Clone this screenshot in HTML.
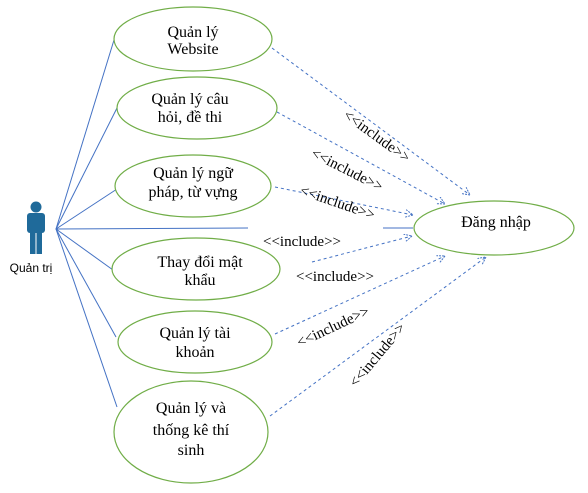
<!DOCTYPE html>
<html><head><meta charset="utf-8"><style>body{margin:0;background:#fff}</style></head><body>
<svg width="588" height="488" xmlns="http://www.w3.org/2000/svg" font-family="Liberation Serif, serif" font-size="16">
<defs><marker id="a" markerWidth="10" markerHeight="10" refX="8" refY="4" orient="auto" markerUnits="userSpaceOnUse"><path d="M0,0 L8,4 L0,8" fill="none" stroke="#4472c4" stroke-width="1" stroke-dasharray="2,1"/></marker></defs>
<g stroke="#4472c4" stroke-width="1" fill="none">
<line x1="56" y1="229" x2="114" y2="40"/>
<line x1="56" y1="229" x2="117" y2="108"/>
<line x1="56" y1="229" x2="117" y2="189"/>
<line x1="56" y1="229" x2="248" y2="228"/>
<line x1="383" y1="228" x2="413" y2="228"/>
<line x1="56" y1="229" x2="113" y2="270"/>
<line x1="56" y1="229" x2="116" y2="337"/>
<line x1="56" y1="229" x2="117" y2="407"/>
</g>
<g stroke="#4472c4" stroke-width="1" stroke-dasharray="3,3" fill="none" marker-end="url(#a)">
<line x1="272" y1="48" x2="470" y2="195"/>
<line x1="277" y1="112" x2="445" y2="204"/>
<line x1="275" y1="187" x2="413" y2="215"/>
<line x1="312" y1="262" x2="412" y2="236"/>
<line x1="275" y1="334" x2="445" y2="256"/>
<line x1="270" y1="416" x2="486" y2="257"/>
</g>
<g fill="#fff" stroke="#70ad47" stroke-width="1.2">
<ellipse cx="193" cy="39" rx="79" ry="32"/>
<ellipse cx="197" cy="108" rx="80" ry="31"/>
<ellipse cx="193" cy="186" rx="78" ry="31"/>
<ellipse cx="196" cy="269" rx="84" ry="31"/>
<ellipse cx="195" cy="342" rx="77" ry="31"/>
<ellipse cx="191" cy="432" rx="77" ry="51"/>
<ellipse cx="494" cy="228" rx="80" ry="27"/>
</g>
<g text-anchor="middle" fill="#000">
<text x="193" y="37">Quản lý</text><text x="193" y="54">Website</text>
<text x="190" y="104">Quản lý câu</text><text x="190" y="122">hỏi, đề thi</text>
<text x="193" y="178">Quản lý ngữ</text><text x="193" y="197">pháp, từ vựng</text>
<text x="200" y="267">Thay đổi mật</text><text x="200" y="285">khẩu</text>
<text x="195" y="338">Quản lý tài</text><text x="195" y="357">khoản</text>
<text x="191" y="413">Quản lý và</text><text x="191" y="435">thống kê thí</text><text x="191" y="455">sinh</text>
<text x="496" y="227">Đăng nhập</text>
</g>
<g text-anchor="middle" fill="#000" font-size="15">
<text x="302" y="246">&lt;&lt;include&gt;&gt;</text>
<text x="335" y="281">&lt;&lt;include&gt;&gt;</text>
<text transform="translate(374,140) rotate(36)">&lt;&lt;include&gt;&gt;</text>
<text transform="translate(345,174) rotate(27)">&lt;&lt;include&gt;&gt;</text>
<text transform="translate(336,207) rotate(19)">&lt;&lt;include&gt;&gt;</text>
<text transform="translate(335,331) rotate(-25)">&lt;&lt;include&gt;&gt;</text>
<text transform="translate(381,358) rotate(-50)">&lt;&lt;include&gt;&gt;</text>
</g>
<g fill="#1f6a9a">
<circle cx="36" cy="207" r="5.5"/>
<rect x="27" y="213" width="18" height="20" rx="3"/>
<rect x="30" y="228" width="5.5" height="26"/>
<rect x="36.5" y="228" width="5.5" height="26"/>
</g>
<text x="31" y="272" text-anchor="middle" font-family="Liberation Sans, sans-serif" font-size="12">Quản trị</text>
</svg>
</body></html>
